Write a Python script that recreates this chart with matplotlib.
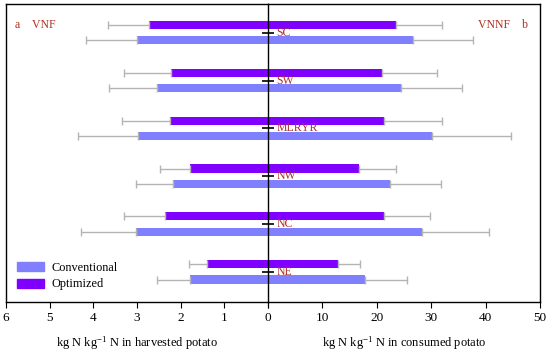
import numpy as np
import matplotlib.pyplot as plt
from matplotlib.patches import Patch

plt.rcParams['font.family'] = ['Liberation Serif', 'DejaVu Serif']
plt.rcParams['mathtext.fontset'] = 'custom'
plt.rcParams['mathtext.rm'] = 'Liberation Serif'
plt.rcParams['mathtext.it'] = 'Liberation Serif:italic'

# ---------------- data ----------------
regions = ['SC', 'SW', 'MLRYR', 'NW', 'NC', 'NE']

# VNF (harvested potato)
vnf_conv = [3.00, 2.54, 2.97, 2.17, 3.02, 1.78]
vnf_conv_err = [1.16, 1.10, 1.38, 0.85, 1.26, 0.76]
vnf_opt = [2.72, 2.22, 2.24, 1.78, 2.36, 1.40]
vnf_opt_err = [0.94, 1.08, 1.10, 0.69, 0.94, 0.41]

# VNNF (consumed potato)
vnnf_conv = [26.7, 24.5, 30.1, 22.4, 28.3, 17.8]
vnnf_conv_err = [11.0, 11.1, 14.5, 9.4, 12.3, 7.8]
vnnf_opt = [23.6, 21.0, 21.3, 16.7, 21.3, 12.9]
vnnf_opt_err = [8.3, 10.0, 10.7, 6.9, 8.5, 4.0]

c_conv = '#8080ff'
c_opt = '#8000ff'
c_err = '#b4b4b4'
c_txt = '#b03020'

y = np.arange(len(regions))[::-1].astype(float)
off = 0.16
h = 0.17

fig = plt.figure(figsize=(5.5, 3.54), dpi=100)
axR = fig.add_axes([268 / 550, 1 - 302 / 354, 272 / 550, 298 / 354])
axL = fig.add_axes([6 / 550, 1 - 302 / 354, 262 / 550, 298 / 354])
axL.patch.set_visible(False)

ekw = dict(ecolor=c_err, elinewidth=1.0, capsize=3, capthick=1.0)

axL.barh(y + off, vnf_opt, height=h, color=c_opt, xerr=[np.zeros(6), vnf_opt_err], error_kw=ekw, zorder=2)
axL.barh(y - off, vnf_conv, height=h, color=c_conv, xerr=[np.zeros(6), vnf_conv_err], error_kw=ekw, zorder=2)
axR.barh(y + off, vnnf_opt, height=h, color=c_opt, xerr=[np.zeros(6), vnnf_opt_err], error_kw=ekw, zorder=2)
axR.barh(y - off, vnnf_conv, height=h, color=c_conv, xerr=[np.zeros(6), vnnf_conv_err], error_kw=ekw, zorder=2)

for ax in (axL, axR):
    ax.set_ylim(-0.63, 5.6)
    for s in ax.spines.values():
        s.set_linewidth(1.0)
        s.set_zorder(4)

axL.set_xlim(6, 0)
axL.set_xticks(range(0, 7))
axL.set_yticks(y)
axL.set_yticklabels([])
axL.yaxis.tick_right()
axL.tick_params(axis='y', direction='inout', length=8, width=1.2)
axL.tick_params(axis='x', direction='out', length=4, labelsize=9.5, pad=3)
axL.set_xlabel('kg N kg$^{-1}$ N in harvested potato', fontsize=9, labelpad=8)

axR.set_xlim(0, 50)
axR.set_xticks(range(0, 51, 10))
axR.set_xticklabels([''] + [str(v) for v in range(10, 51, 10)])
axR.set_yticks([])
axR.spines['left'].set_visible(False)
axR.tick_params(axis='x', direction='out', length=4, labelsize=9.5, pad=3)
axR.set_xlabel('kg N kg$^{-1}$ N in consumed potato', fontsize=9, labelpad=8)

for yi, name in zip(y, regions):
    axR.text(1.5, yi, name, color=c_txt, fontsize=8.5, va='center', ha='left', zorder=3)

axL.text(0.035, 0.93, 'a    VNF', transform=axL.transAxes, color=c_txt, fontsize=8.5, va='center')
axR.text(0.955, 0.93, 'VNNF    b', transform=axR.transAxes, color=c_txt, fontsize=8.5, va='center', ha='right')

handles = [Patch(color=c_conv, label='Conventional'), Patch(color=c_opt, label='Optimized')]
axL.legend(handles=handles, loc='lower left', bbox_to_anchor=(0.01, 0.01), frameon=False,
           fontsize=8.8, handlelength=2.2, handleheight=0.75, labelspacing=0.35, borderaxespad=0.3,
           handletextpad=0.6)

fig.savefig('out.png', dpi=100)
